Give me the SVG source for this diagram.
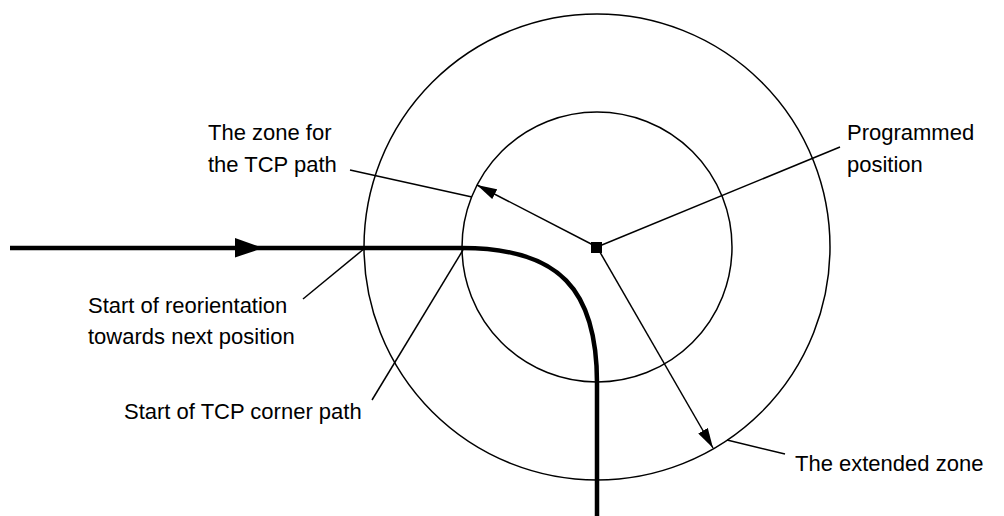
<svg xmlns="http://www.w3.org/2000/svg" width="1004" height="516" viewBox="0 0 1004 516">
<style>
.thin{fill:none;stroke:#000;stroke-width:1.5}
.path{fill:none;stroke:#000;stroke-width:4.5}
.lbl{font-family:"Liberation Sans",Arial,sans-serif;font-size:22px;fill:#000}
</style>
<defs>
<marker id="ah" markerUnits="userSpaceOnUse" markerWidth="20" markerHeight="11" refX="20" refY="5.5" orient="auto">
<path d="M0,0 L20,5.5 L0,11 z" fill="#000"/>
</marker>
</defs>
<rect width="1004" height="516" fill="#fff"/>
<g id="extended-zone"><circle class="thin" cx="597" cy="247" r="233"/></g>
<g id="tcp-zone"><circle class="thin" cx="597" cy="247" r="135"/></g>
<g id="tcp-path">
<path class="path" d="M10,248 L462,248 C560,248 597,290 597,383 L597,516"/>
<polygon points="235,238 263,248 235,257.5" fill="#000"/>
</g>
<g id="programmed-position"><rect x="591" y="242" width="11" height="11" fill="#000"/></g>
<g id="connectors">
<line class="thin" x1="597" y1="247" x2="477" y2="185" marker-end="url(#ah)"/>
<line class="thin" x1="597" y1="247" x2="713" y2="448" marker-end="url(#ah)"/>
<line class="thin" x1="597" y1="247" x2="840" y2="147"/>
<line class="thin" x1="350" y1="170" x2="472" y2="197"/>
<line class="thin" x1="303" y1="299" x2="365" y2="248"/>
<line class="thin" x1="372" y1="400" x2="463" y2="250"/>
<line class="thin" x1="727" y1="440" x2="785" y2="454"/>
</g>
<g id="label-zone"><text class="lbl" x="208" y="140">The zone for</text><text class="lbl" x="208" y="172">the TCP path</text></g>
<g id="label-programmed"><text class="lbl" x="847" y="140">Programmed</text><text class="lbl" x="847" y="172">position</text></g>
<g id="label-reorientation"><text class="lbl" x="88" y="313">Start of reorientation</text><text class="lbl" x="88" y="344">towards next position</text></g>
<g id="label-corner"><text class="lbl" x="124" y="419">Start of TCP corner path</text></g>
<g id="label-extended"><text class="lbl" x="795" y="471">The extended zone</text></g>
</svg>
